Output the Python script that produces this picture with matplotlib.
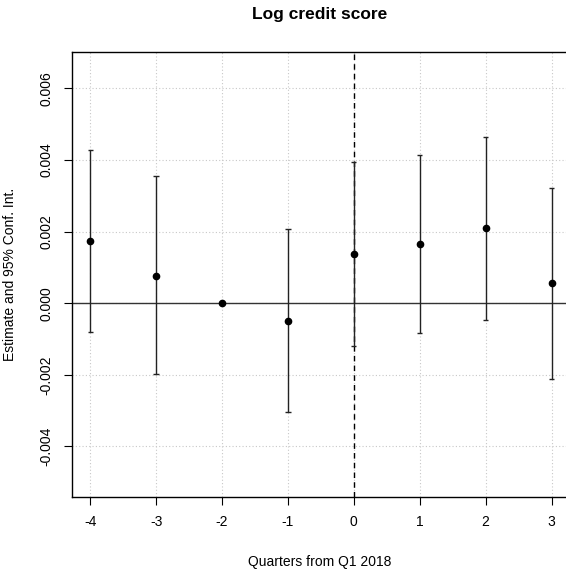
import numpy as np
import matplotlib
matplotlib.use("Agg")
import matplotlib.pyplot as plt

plt.rcParams["font.family"] = ["Liberation Sans", "DejaVu Sans"]

# event-study coefficients, quarters relative to Q1 2018 (-2 is the reference)
quarters = [-4, -3, -2, -1, 0, 1, 2, 3]
estimate = [0.00173, 0.00077, 0.0, -0.00049, 0.00137, 0.00166, 0.00210, 0.00055]
ci_low = [-0.00080, -0.00199, 0.0, -0.00304, -0.00119, -0.00083, -0.00046, -0.00212]
ci_high = [0.00427, 0.00354, 0.0, 0.00207, 0.00394, 0.00415, 0.00465, 0.00322]
y_ticks = [-0.004, -0.002, 0.000, 0.002, 0.004, 0.006]

x = np.array(quarters)
est = np.array(estimate)
lo = np.array(ci_low)
hi = np.array(ci_high)

fig = plt.figure(figsize=(5.66, 5.70), dpi=100)
ax = fig.add_axes([71.7 / 566, 1 - 497 / 570, (568 - 71.7) / 566, (497 - 51.7) / 570])

# grid and reference lines
for q in quarters:
    ax.axvline(q, color="#c8c8c8", lw=0.8, ls=(0, (1, 2)), zorder=0)
for t in y_ticks:
    ax.axhline(t, color="#c8c8c8", lw=0.8, ls=(0, (1, 2)), zorder=0)
ax.axhline(0, color="#333333", lw=1.0, zorder=1)
ax.axvline(0, color="black", lw=1.0, ls=(0, (4, 3)), zorder=1)

# confidence intervals (skip the reference period)
ci_mask = hi != lo
ax.vlines(x[ci_mask], lo[ci_mask], hi[ci_mask], color="#222222", lw=1.0, zorder=2)
ax.hlines(lo[ci_mask], x[ci_mask] - 0.04, x[ci_mask] + 0.04, color="#222222", lw=1.0, zorder=2)
ax.hlines(hi[ci_mask], x[ci_mask] - 0.04, x[ci_mask] + 0.04, color="#222222", lw=1.0, zorder=2)
ax.plot(x, est, "o", color="black", ms=4.5, zorder=3)

ax.set_xlim(-4.28, 3.25)
ax.set_ylim(-0.00541, 0.00702)
ax.set_xticks(quarters)
ax.set_xticklabels([str(q) for q in quarters])
ax.set_yticks(y_ticks)
ax.set_yticklabels(["{:.3f}".format(t) for t in y_ticks], rotation=90, va="center")
ax.tick_params(direction="out", length=6, width=0.8, labelsize=10, pad=7)
for s in ax.spines.values():
    s.set_linewidth(1.0)

ax.set_xlabel("Quarters from Q1 2018", fontsize=10, labelpad=19)
ax.set_ylabel("Estimate and 95% Conf. Int.", fontsize=10, labelpad=16)
fig.text(320 / 566, 1 - 15 / 570, "Log credit score", ha="center", va="center",
         fontsize=12.5, fontweight="bold")

fig.savefig("out.png", dpi=100)
